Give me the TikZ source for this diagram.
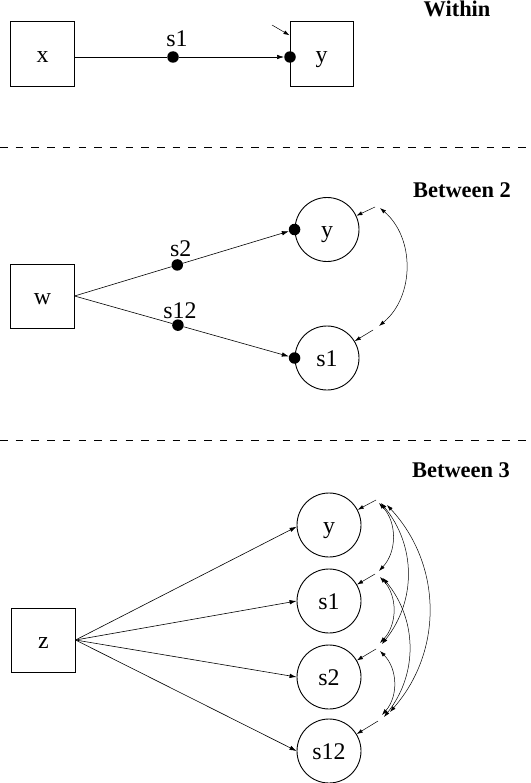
\documentclass[tikz,border=0pt]{standalone}
\usepackage{fontspec}
\setmainfont{Liberation Serif}
\usetikzlibrary{arrows.meta,calc}
\newcommand\labfnt{\fontsize{24}{24}\selectfont}
\newcommand\titfnt{\fontsize{22.5}{22.5}\selectfont\bfseries}
\tikzset{
  obs/.style={draw, line width=1bp, minimum width=63bp, minimum height=64bp, inner sep=0pt, font=\labfnt, text height=17bp, text depth=0pt},
  lat/.style={draw, circle, line width=0.9bp, minimum size=64bp, inner sep=0pt, font=\labfnt, text height=16bp, text depth=0pt},
  dotn/.style={circle, fill=black, minimum size=11.5bp, inner sep=0pt},
  tip/.style={-{Latex[length=7bp,width=4.5bp]}},
  regline/.style={line width=0.6bp, tip},
  plainline/.style={line width=0.8bp},
  resid/.style={line width=0.5bp, -{Latex[length=6bp,width=4bp]}},
  cov/.style={line width=0.5bp, {Latex[length=6bp,width=4bp]}-{Latex[length=6bp,width=4bp]}},
  title/.style={font=\titfnt, anchor=base, inner sep=0pt},
  slab/.style={font=\labfnt, anchor=base, inner sep=0pt},
  sep/.style={dash pattern=on 7.5bp off 8.2bp, line width=0.9bp}
}
\begin{document}
\begin{tikzpicture}[x=1bp,y=-1bp]
\useasboundingbox (0,0) rectangle (531,783);
% ---------------- Within
\node[title] (t1) at (457,17) {Within};
\node[obs] (x) at (42.5,54) {x};
\node[obs] (y) at (321.5,54) {y};
\node[dotn] (d1) at (173,57) {};
\node[dotn] (dy) at (290,57) {};
\node[slab] (l1) at (177,47) {s1};
\draw[plainline] (x.east |- d1) -- (d1);
\draw[regline] (d1) -- (dy);
\coordinate (ry) at (272,25);
\draw[resid] (ry) -- (y);
% separator
\draw[sep] (0,147.5) -- (531,147.5);
% ---------------- Between 2
\node[title] (t2) at (462,197) {Between 2};
\node[obs] (w) at (42.5,296) {w};
\node[lat] (yb) at (327,229.5) {y};
\node[lat] (s1b) at (327,358) {s1};
\node[dotn] (dyb) at (yb.west) {};
\node[dotn] (ds1b) at (s1b.west) {};
\node[dotn] (d2) at ($(w.east)!0.467!(yb.west)$) {};
\node[dotn] (d12) at ($(w.east)!0.47!(s1b.west)$) {};
\node[slab] (l2) at (180.7,256.7) {s2};
\node[slab] (l12) at (180,318) {s12};
\draw[line width=0.6bp] (w.east) -- (d2);
\draw[line width=0.6bp] (w.east) -- (d12);
\draw[regline] (d2) -- (dyb);
\draw[regline] (d12) -- (ds1b);
\coordinate (ryb) at (375,207);
\coordinate (rs1b) at (373,330);
\draw[resid] (ryb) -- (yb);
\draw[resid] (rs1b) -- (s1b);
\coordinate (cyb) at (380,208);
\coordinate (cs1b) at (379,326);
\draw[cov] (cyb) to[bend left=50] (cs1b);
% separator
\draw[sep] (0,440) -- (531,440);
% ---------------- Between 3
\node[title] (t3) at (461,477) {Between 3};
\node[obs] (z) at (43.5,640) {z};
\node[lat] (yc) at (329,525) {y};
\node[lat] (s1c) at (329,601) {s1};
\node[lat] (s2c) at (329,677) {s2};
\node[lat] (s12c) at (329,751) {s12};
\draw[regline] (z.east) -- (yc.183);
\draw[regline] (z.east) -- (s1c.west);
\draw[regline] (z.east) -- (s2c.west);
\draw[regline] (z.east) -- (s12c.west);
\coordinate (ryc) at (376,500);
\coordinate (rs1c) at (375,574);
\coordinate (rs2c) at (376,649);
\coordinate (rs12c) at (378,721);
\draw[resid] (ryc) -- (yc);
\draw[resid] (rs1c) -- (s1c);
\draw[resid] (rs2c) -- (s2c);
\draw[resid] (rs12c) -- (s12c);
% covariances
\coordinate (a1) at (379,503);
\coordinate (a2) at (381,503);
\coordinate (a3) at (387,505);
\coordinate (b0) at (379,571);
\coordinate (b1) at (380,577);
\coordinate (b2) at (383,578);
\coordinate (c0) at (380,643);
\coordinate (c0b) at (382,644);
\coordinate (c1) at (380,651);
\coordinate (e1) at (382,715);
\coordinate (e2) at (384,717);
\coordinate (e3) at (390,712);
\draw[cov] (a1) to[bend left=43] (b0);
\draw[cov] (a2) to[bend left=39] (c0b);
\draw[cov] (a3) to[bend left=42] (e3);
\draw[cov] (b1) to[bend left=43] (c0);
\draw[cov] (b2) to[bend left=39] (e2);
\draw[cov] (c1) to[bend left=43] (e1);
\end{tikzpicture}
\end{document}
